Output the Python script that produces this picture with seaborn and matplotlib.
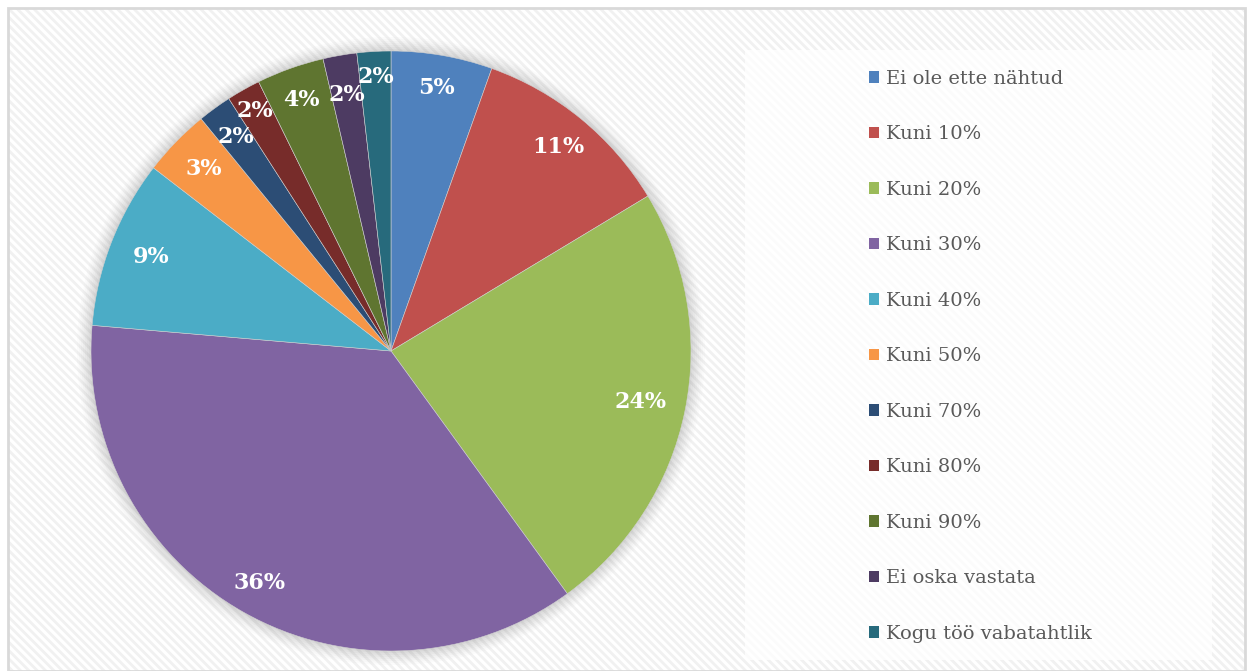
import numpy as np
import matplotlib
matplotlib.use('Agg')
import matplotlib.pyplot as plt
import matplotlib.patches as mpatches
import seaborn as sns

categories = [
    'Ei ole ette nähtud', 'Kuni 10%', 'Kuni 20%', 'Kuni 30%', 'Kuni 40%',
    'Kuni 50%', 'Kuni 70%', 'Kuni 80%', 'Kuni 90%', 'Ei oska vastata',
    'Kogu töö vabatahtlik'
]
counts     = [3, 6, 13, 20, 5, 2, 1, 1, 2, 1, 1]
pctLabels  = ['5%', '11%', '24%', '36%', '9%', '3%', '2%', '2%', '4%', '2%', '2%']
colors = [
    '#4F81BD', '#C0504D', '#9BBB59', '#8064A2', '#4BACC6', '#F79646',
    '#2C4D75', '#772C2A', '#5F7530', '#4D3B62', '#276A7C'
]
# radial position of each data label (fraction of radius)
labelDist = [0.89, 0.88, 0.85, 0.89, 0.86, 0.87, 0.88, 0.92, 0.89, 0.865, 0.915]

sns.set_theme(style='white')
plt.rcParams['font.family'] = ['DejaVu Serif']

W, H = 1253, 671
fig = plt.figure(figsize=(W / 100, H / 100), dpi=100)
fig.patch.set_facecolor('white')

# striped chart background with grey border
bg = fig.add_axes([0, 0, 1, 1])
bg.set_xlim(0, W)
bg.set_ylim(H, 0)
bg.axis('off')
plt.rcParams['hatch.linewidth'] = 2.0
bg.add_patch(mpatches.Rectangle((8, 8), W - 16, H - 8, facecolor='white',
                                edgecolor='#f1f1f1', hatch='\\\\\\\\', linewidth=0))
bg.add_patch(mpatches.Rectangle((8, 8), W - 16, H - 8, facecolor='none',
                                edgecolor='#d9d9d9', linewidth=2))
# legend box
bg.add_patch(mpatches.Rectangle((745, 50), 467, 610, facecolor='white',
                                edgecolor='none', alpha=0.75))

# soft shadow around pie
cx, cy, r = 391, 351, 300
for k, a in zip(range(14, 0, -2), [0.03, 0.04, 0.05, 0.06, 0.07, 0.08, 0.09]):
    bg.add_patch(mpatches.Circle((cx, cy), r + k, facecolor='#9a9a9a',
                                 edgecolor='none', alpha=a))

ax = fig.add_axes([(cx - r) / W, (H - cy - r) / H, 2 * r / W, 2 * r / H])
wedges, texts = ax.pie(counts, colors=colors, startangle=90, counterclock=False,
                       wedgeprops=dict(linewidth=0.4, edgecolor='#d0d0d0'))
for w, lab, d in zip(wedges, pctLabels, labelDist):
    ang = np.deg2rad((w.theta1 + w.theta2) / 2)
    ax.text(d * np.cos(ang), d * np.sin(ang), lab, ha='center', va='center',
            color='white', fontsize=16, fontweight='bold')
ax.set_xlim(-1, 1)
ax.set_ylim(-1, 1)
ax.set_aspect('equal')
ax.axis('off')

handles = [mpatches.Patch(facecolor=c, edgecolor='none') for c in colors]
leg = fig.legend(handles, categories, loc='upper left',
                 bbox_to_anchor=(859 / W, 1 - 60 / H), frameon=False,
                 fontsize=14, handlelength=0.55, handleheight=0.55,
                 handletextpad=0.35, labelspacing=1.93, borderpad=0)
for t in leg.get_texts():
    t.set_color('#595959')

fig.savefig('out.png', dpi=100)
